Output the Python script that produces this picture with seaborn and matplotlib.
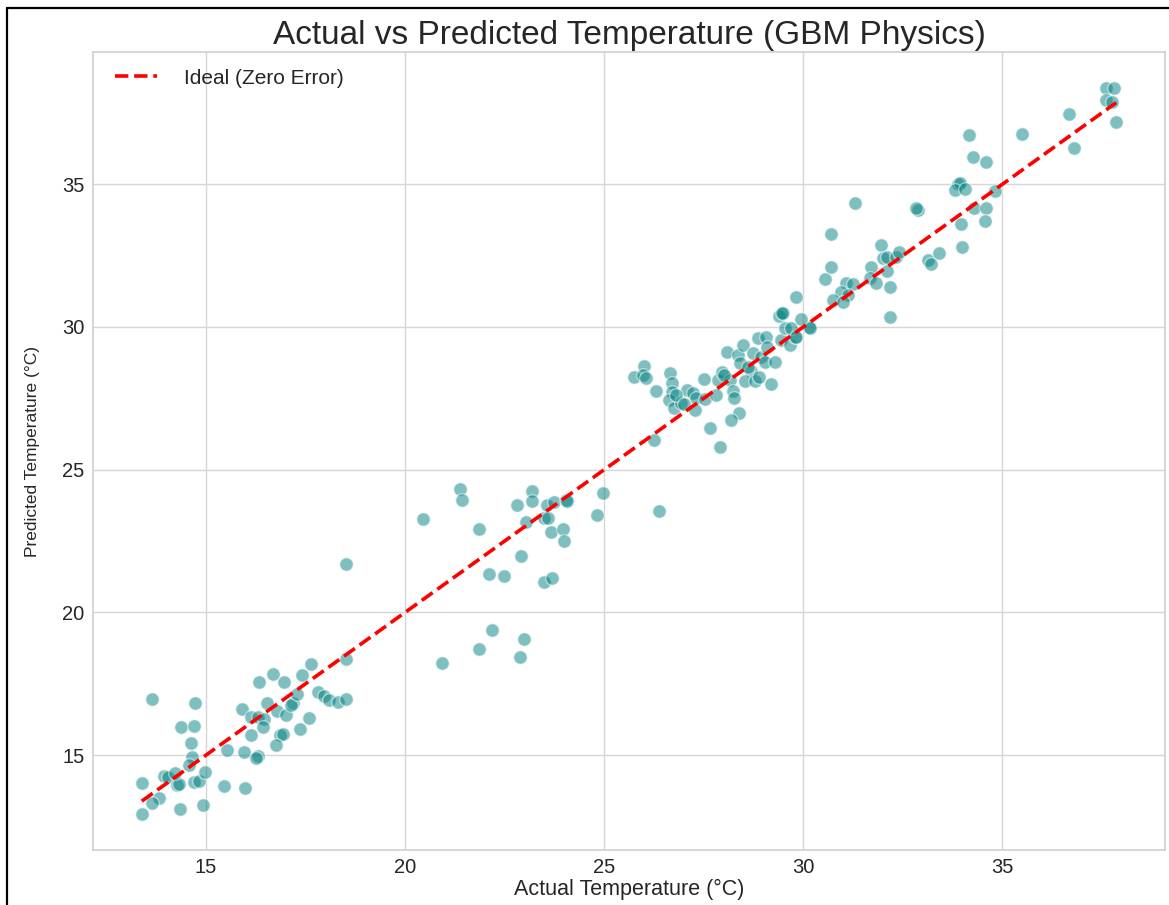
"""
Actual vs Predicted Temperature (GBM Physics) - scatter with ideal line
"""
import numpy as np
import pandas as pd
import matplotlib
matplotlib.use("Agg")
import matplotlib.pyplot as plt
from matplotlib.lines import Line2D
import seaborn as sns

# 实际温度 (°C)
actual = [
    13.64, 14.72, 14.37, 14.69, 14.62, 14.66, 14.58, 13.39, 13.95, 14.04,
    14.27, 14.33, 14.23, 14.71, 14.83, 14.99, 13.81, 13.64, 13.39, 14.35,
    14.92, 15.46, 15.98, 15.53, 15.95, 16.30, 16.27, 15.90, 16.13, 16.31,
    16.46, 16.43, 16.13, 16.54, 16.34, 16.69, 16.97, 16.78, 17.01, 17.18,
    17.14, 17.28, 16.86, 16.94, 16.76, 17.37, 17.60, 17.41, 17.64, 17.81,
    17.97, 18.10, 18.31, 18.52, 18.52, 18.52,
    21.38, 21.44, 20.45, 21.85, 23.18, 23.20, 22.80, 23.57, 23.75, 24.03,
    24.07, 23.05, 23.50, 23.59, 23.66, 23.97, 24.00, 24.96, 24.82, 22.91,
    22.11, 22.49, 23.48, 23.69, 22.19, 22.99, 21.85, 22.89, 20.93, 26.38,
    25.99, 25.76, 25.98, 26.05, 26.29, 26.66, 26.71, 26.70, 26.64, 26.75,
    26.93, 27.09, 27.23, 27.31, 27.29, 27.50, 27.52, 27.81, 27.86, 27.96,
    28.15, 28.23, 28.27, 28.38, 28.19, 27.65, 27.92, 26.24, 28.09, 28.36,
    28.49, 28.40, 28.69, 28.53, 28.78, 28.90, 29.20, 28.74, 28.94, 29.03,
    29.28, 28.86, 29.07, 29.45, 29.66, 29.78, 30.15, 26.80, 27.00, 28.00,
    28.60, 29.10, 29.40, 29.50,
    29.82, 29.47, 29.53, 29.70, 29.95, 30.16, 29.82, 30.54, 30.70, 30.69,
    31.31, 31.96, 32.00, 32.09, 32.34, 32.41, 31.71, 32.09, 31.67, 31.83,
    31.08, 31.25, 30.95, 31.12, 30.75, 31.00, 32.19, 32.19, 32.88, 32.83,
    33.13, 33.20, 33.42, 33.89, 33.93, 33.80, 34.05, 33.95, 33.99, 34.28,
    34.60, 34.56, 34.81, 34.17, 34.27, 34.60, 35.50, 36.68, 36.81, 37.59,
    37.81, 37.59, 37.74, 37.86,
]

# 预测温度 (°C)
predicted = [
    16.96, 16.82, 15.99, 16.02, 15.41, 14.92, 14.65, 14.01, 14.26, 14.22,
    13.96, 13.98, 14.37, 14.07, 14.09, 14.42, 13.50, 13.31, 12.95, 13.10,
    13.26, 13.92, 13.84, 15.19, 15.12, 14.98, 14.91, 16.61, 16.34, 16.35,
    16.28, 16.00, 15.69, 16.82, 17.56, 17.86, 17.56, 16.55, 16.40, 16.84,
    16.75, 17.13, 15.71, 15.74, 15.37, 15.93, 16.29, 17.82, 18.18, 17.21,
    17.07, 16.93, 16.86, 16.96, 18.36, 21.68,
    24.33, 23.94, 23.26, 22.93, 24.27, 23.92, 23.77, 23.77, 23.87, 23.95,
    23.92, 23.18, 23.30, 23.30, 22.81, 22.93, 22.52, 24.17, 23.42, 21.96,
    21.36, 21.27, 21.05, 21.19, 19.37, 19.06, 18.72, 18.43, 18.23, 23.57,
    28.65, 28.26, 28.31, 28.22, 27.76, 28.38, 28.03, 27.73, 27.45, 27.16,
    27.35, 27.80, 27.68, 27.51, 27.10, 28.17, 27.47, 27.62, 28.15, 28.44,
    28.15, 27.74, 27.51, 26.98, 26.75, 26.46, 25.81, 26.05, 29.14, 29.02,
    29.37, 28.73, 28.46, 28.12, 28.09, 28.23, 28.01, 29.08, 28.96, 28.79,
    28.79, 29.60, 29.66, 29.55, 29.37, 29.66, 30.00, 27.60, 27.30, 28.30,
    28.60, 29.30, 30.40, 30.50,
    31.06, 30.48, 29.95, 29.95, 30.27, 29.95, 29.66, 31.67, 32.09, 33.25,
    34.35, 32.87, 32.42, 32.46, 32.46, 32.63, 32.11, 31.97, 31.70, 31.53,
    31.53, 31.50, 31.23, 31.12, 30.94, 30.88, 31.39, 30.34, 34.09, 34.15,
    32.34, 32.20, 32.58, 35.02, 35.05, 34.79, 34.85, 33.60, 32.79, 34.18,
    34.15, 33.72, 34.77, 36.71, 35.94, 35.77, 36.75, 37.45, 36.26, 38.36,
    38.36, 37.94, 37.87, 37.17,
]

df = pd.DataFrame({"actual": actual, "predicted": predicted})

sns.set_theme(style="whitegrid")
plt.rcParams['font.family'] = ['Liberation Sans', 'DejaVu Sans']
plt.rcParams['axes.edgecolor'] = '#d0d0d0'
plt.rcParams['grid.color'] = '#d6d6d6'

fig = plt.figure(figsize=(11.69, 9.05), dpi=100)
ax = fig.add_axes([0.0796, 0.0608, 0.917, 0.8817])

sns.scatterplot(data=df, x="actual", y="predicted", color="teal", alpha=0.5,
                s=95, edgecolor="white", linewidth=1, ax=ax, zorder=2)

lo, hi = df["actual"].min(), df["actual"].max()
ax.plot([lo, hi], [lo, hi], color="red", linestyle="--", linewidth=2.6,
        label="Ideal (Zero Error)", zorder=3)

ax.set_title("Actual vs Predicted Temperature (GBM Physics)", fontsize=24, color="#262626", pad=6)
ax.set_xlabel("Actual Temperature (°C)", fontsize=15.5, color="#262626", labelpad=1)
ax.set_ylabel("Predicted Temperature (°C)", fontsize=12.5, color="#262626", labelpad=16)
ax.tick_params(axis="both", labelsize=14.5, colors="#262626", length=0, pad=6)
ax.legend(loc="upper left", bbox_to_anchor=(0.009, 0.995), frameon=False, fontsize=15,
          handlelength=2.0, handletextpad=1.3, borderaxespad=0.2)

# 截图的黑色边框（左、上）
fig.add_artist(Line2D([7 / 1169, 7 / 1169], [0, 1 - 8 / 905], color="black", lw=1.6, transform=fig.transFigure))
fig.add_artist(Line2D([7 / 1169, 1], [1 - 8 / 905, 1 - 8 / 905], color="black", lw=1.6, transform=fig.transFigure))

fig.savefig("out.png", dpi=100)
plt.close(fig)
print("[DONE]")
